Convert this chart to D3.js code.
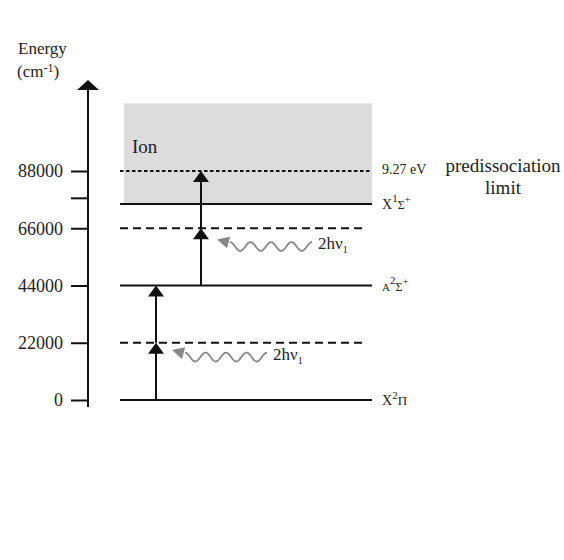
<!DOCTYPE html>
<html>
<head>
<meta charset="utf-8">
<script src="https://cdn.jsdelivr.net/npm/d3@7"></script>
<style>
  body { margin: 0; background: #fff; }
  text { font-family: "Liberation Serif", "Times New Roman", serif; fill: #222; }
</style>
</head>
<body>
<div id="container"></div>
<script>
// Data
const energyTicks = [0, 22000, 44000, 66000, 88000]
const minorTicks = [77500]
const levelEnergy = [0, 22000, 44000, 66000, 75300, 88000]
const levelStyle = ["solid", "dashed", "solid", "dashed", "solid", "dotted"]
const levelLabel = [
  [["X", 14, 0], ["2", 11, -6], ["Π", 13, 6]],
  [],
  [["A", 11, 0], ["2", 11, -7], ["Σ", 12, 7], ["+", 11, -6]],
  [],
  [["X", 14, 0], ["1", 11, -7], ["Σ", 12, 7], ["+", 11, -6]],
  [["9.27 eV", 14, 0]]
]
const ionRange = [75300, 114000]
const transFrom = [0, 22000, 44000, 66000]
const transTo = [22000, 44000, 66000, 88000]
const transColumn = [0, 0, 1, 1]
const photonEnergy = [16500, 59000]
const photonColumn = [0, 1]

// Constants
const width = 564,
  height = 560,
  axisX = 88,
  levelLeft = 120,
  levelRight = 372

const svg = d3.select("#container")
  .append("svg")
  .attr("width", width)
  .attr("height", height)

// scales
const y = d3.scaleLinear()
  .domain([0, 88000])
  .range([400, 171])

const col = d3.scaleLinear()
  .domain([0, 1])
  .range([156, 201])

// ion region
svg.append("rect")
  .attr("x", levelLeft + 4)
  .attr("y", y(ionRange[1]))
  .attr("width", levelRight - levelLeft - 4)
  .attr("height", y(ionRange[0]) - y(ionRange[1]))
  .attr("fill", "#dcdcdc")

svg.append("text")
  .attr("x", 132)
  .attr("y", y(ionRange[1]) + 50)
  .attr("font-size", 19)
  .text("Ion")

// axis
const yAxis = d3.axisLeft(y)
  .tickValues(energyTicks)
  .tickSize(17)
  .tickPadding(8)
  .tickFormat(d3.format("d"))

const gAxis = svg.append("g")
  .attr("transform", `translate(${axisX},0)`)
  .call(yAxis)
gAxis.select(".domain").remove()
gAxis.selectAll(".tick line").attr("stroke", "#111").attr("stroke-width", 2)
gAxis.selectAll(".tick text")
  .attr("font-family", "'Liberation Serif', 'Times New Roman', serif")
  .attr("font-size", 18)
  .attr("fill", "#222")

svg.selectAll(".minor")
  .data(minorTicks)
  .join("line")
  .attr("x1", axisX - 17)
  .attr("x2", axisX)
  .attr("y1", d => y(d))
  .attr("y2", d => y(d))
  .attr("stroke", "#111")
  .attr("stroke-width", 2)

svg.append("line")
  .attr("x1", axisX).attr("x2", axisX)
  .attr("y1", y(0) + 7).attr("y2", 88)
  .attr("stroke", "#111")
  .attr("stroke-width", 2)

svg.append("path")
  .attr("d", `M${axisX},80 L${axisX + 11},90 L${axisX - 11},90 Z`)
  .attr("fill", "#111")

svg.append("text")
  .attr("x", 18).attr("y", 54)
  .attr("font-size", 17)
  .text("Energy")

const unit = svg.append("text")
  .attr("x", 17).attr("y", 77)
  .attr("font-size", 17)
unit.append("tspan").text("(cm")
unit.append("tspan").attr("font-size", 12).attr("dy", -5).text("-1")
unit.append("tspan").attr("dy", 5).text(")")

// levels
svg.selectAll(".level")
  .data(levelEnergy)
  .join("line")
  .attr("class", "level")
  .attr("x1", levelLeft)
  .attr("x2", (d, i) => levelStyle[i] == "dashed" ? levelRight - 6 : levelRight)
  .attr("y1", d => y(d))
  .attr("y2", d => y(d))
  .attr("stroke", "#111")
  .attr("stroke-width", 2)
  .attr("stroke-dasharray", (d, i) => levelStyle[i] == "dashed" ? "8,5" : levelStyle[i] == "dotted" ? "3.5,2.5" : null)

// level labels
levelEnergy.forEach((e, i) => {
  if (!levelLabel[i].length) return
  const t = svg.append("text")
    .attr("x", 382)
    .attr("y", y(e) + (levelStyle[i] == "dotted" ? 3 : 5))
  levelLabel[i].forEach(p => {
    t.append("tspan").attr("font-size", p[1]).attr("dy", p[2]).text(p[0])
  })
})

const pre = svg.append("text")
  .attr("text-anchor", "middle")
  .attr("font-size", 19)
pre.append("tspan").attr("x", 503).attr("y", y(88000) + 1).text("predissociation")
pre.append("tspan").attr("x", 503).attr("y", y(88000) + 23).text("limit")

// transitions
transFrom.forEach((f, i) => {
  const x = col(transColumn[i])
  const tip = y(transTo[i])
  svg.append("line")
    .attr("x1", x).attr("x2", x)
    .attr("y1", y(f)).attr("y2", tip + 8)
    .attr("stroke", "#111")
    .attr("stroke-width", 2)
  svg.append("path")
    .attr("d", `M${x},${tip} L${x + 8},${tip + 11} L${x - 8},${tip + 11} Z`)
    .attr("fill", "#111")
})

// photons
const waveLine = d3.line().curve(d3.curveBasis)
photonEnergy.forEach((e, i) => {
  const x0 = col(photonColumn[i]) + 29
  const yc = y(e)
  const pts = d3.range(0, 82.5, 1).map(dx => [x0 + dx, yc - 4.5 * Math.cos(2 * Math.PI * dx / 20.5)])
  svg.append("path")
    .attr("d", waveLine(pts))
    .attr("fill", "none")
    .attr("stroke", "#888")
    .attr("stroke-width", 1.8)
  svg.append("path")
    .attr("d", "M0,0 L12,-6 L12,6 Z")
    .attr("transform", `translate(${x0 - 13},${yc - 7}) rotate(15)`)
    .attr("fill", "#888")
  const lab = svg.append("text")
    .attr("x", x0 + 88)
    .attr("y", yc + 3)
    .attr("font-size", 17)
  lab.append("tspan").text("2hν")
  lab.append("tspan").attr("font-size", 10).attr("dy", 4).text("1")
})
</script>
</body>
</html>
